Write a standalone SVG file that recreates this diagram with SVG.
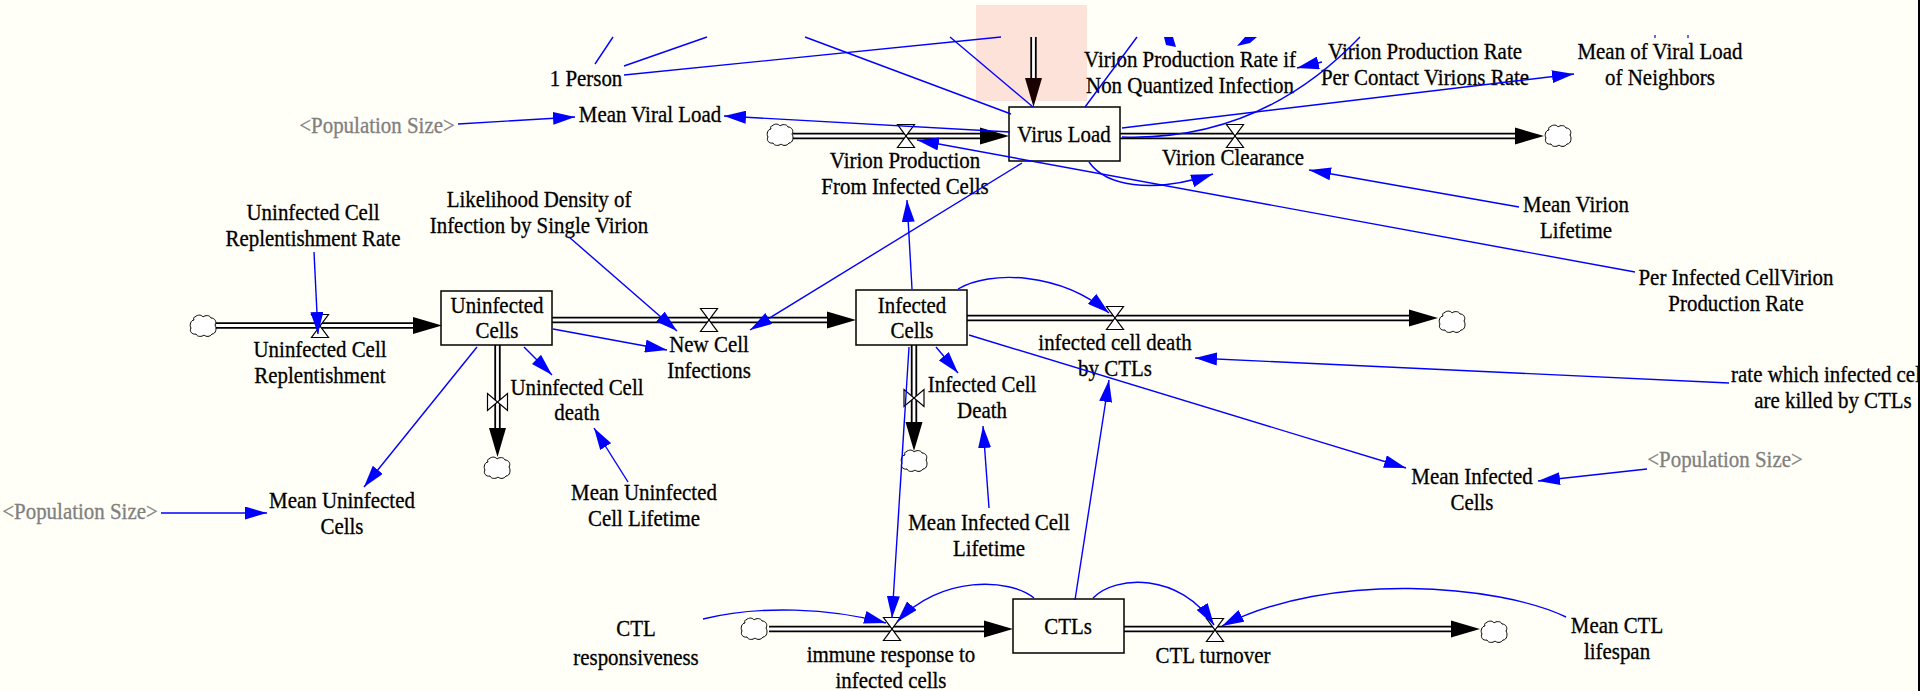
<svg xmlns="http://www.w3.org/2000/svg" width="1920" height="691" viewBox="0 0 1920 691">
  <style>
    .t { font-family: "Liberation Serif", "Times New Roman", serif; font-size: 22.5px; fill: #000; stroke: #000; stroke-width: 0.3; text-anchor: middle; }
    .g { fill: #808080; stroke: #808080; }
    .box { fill: none; stroke: #000; stroke-width: 1.5; }
    .po { fill: none; stroke: #000; stroke-width: 6.4; }
    .pi { fill: none; stroke: #fff; stroke-width: 2.8; }
    .valve { fill: #fff; stroke: #000; stroke-width: 1.2; }
    .cloud { fill: #fff; stroke: #000; stroke-width: 1; }
    .ah { fill: #000; }
    .ln { fill: none; stroke: #0000ff; stroke-width: 1.4; }
    .arr { marker-end: url(#blueHead); }
  </style>
  <defs>
    <marker id="blueHead" viewBox="0 0 22 13" refX="22" refY="6.5" markerWidth="22" markerHeight="13" markerUnits="userSpaceOnUse" orient="auto">
      <path d="M0,0 L22,6.5 L0,13 Z" fill="#0000ff"/>
    </marker>
    <path id="cloudShape" d="M-8,-9 C-5,-12 -1,-11 0,-9 C2,-11 7,-11 8,-8 C12,-8 14,-4 12,-1 C14,2 13,8 9,8 C7,11 3,11 1,9 C-1,11 -6,11 -7,8 C-11,9 -14,5 -12,2 C-14,-1 -12,-6 -9,-6 C-10,-8 -9,-9 -8,-9 Z"/>
    <path id="valveH" d="M-8.5,-11.5 H8.5 L-8.5,11.5 H8.5 Z"/>
    <path id="valveV" d="M-10,-8.5 V8.5 L10,-8.5 V8.5 Z"/>
    <path id="pipeHead" d="M0,0 L-29,-8.5 L-29,8.5 Z"/>
    <!-- flow pipes -->
    <path id="p1" d="M793,136 H981"/>
    <path id="p2" d="M1033.5,37 V79"/>
    <path id="p3" d="M1120,136 H1517"/>
    <path id="p4" d="M216,325.5 H414"/>
    <path id="p5" d="M552,320 H829"/>
    <path id="p6" d="M967,318 H1410"/>
    <path id="p7" d="M497.5,345 V428"/>
    <path id="p8" d="M914,345 V422"/>
    <path id="p9" d="M769,629 H986"/>
    <path id="p10" d="M1124,629 H1451"/>
    <clipPath id="frame"><rect x="0" y="0" width="1918" height="691"/></clipPath>
  </defs>

  <rect x="0" y="0" width="1920" height="691" fill="#fffef7"/>
  <rect x="976" y="5" width="111" height="96" fill="#fde2da"/>
  <rect x="1918" y="0" width="2" height="691" fill="#000"/>

  <!-- stock and flow pipes -->
  <g id="flows">
    <use href="#p1" class="po"/><use href="#p1" class="pi"/>
    <use href="#p2" class="po"/><use href="#p2" class="pi"/>
    <use href="#p3" class="po"/><use href="#p3" class="pi"/>
    <use href="#p4" class="po"/><use href="#p4" class="pi"/>
    <use href="#p5" class="po"/><use href="#p5" class="pi"/>
    <use href="#p6" class="po"/><use href="#p6" class="pi"/>
    <use href="#p7" class="po"/><use href="#p7" class="pi"/>
    <use href="#p8" class="po"/><use href="#p8" class="pi"/>
    <use href="#p9" class="po"/><use href="#p9" class="pi"/>
    <use href="#p10" class="po"/><use href="#p10" class="pi"/>

    <use href="#pipeHead" class="ah" transform="translate(1009,136)"/>
    <use href="#pipeHead" class="ah" transform="translate(1033.5,107) rotate(90)" style="fill:#1a0000"/>
    <use href="#pipeHead" class="ah" transform="translate(1544,136)"/>
    <use href="#pipeHead" class="ah" transform="translate(442,325.5)"/>
    <use href="#pipeHead" class="ah" transform="translate(856,320)"/>
    <use href="#pipeHead" class="ah" transform="translate(1438,318)"/>
    <use href="#pipeHead" class="ah" transform="translate(497.5,457) rotate(90)"/>
    <use href="#pipeHead" class="ah" transform="translate(914,451) rotate(90)"/>
    <use href="#pipeHead" class="ah" transform="translate(1013,629)"/>
    <use href="#pipeHead" class="ah" transform="translate(1480,629)"/>

    <use href="#cloudShape" class="cloud" x="780" y="135"/>
    <use href="#cloudShape" class="cloud" x="1558" y="136"/>
    <use href="#cloudShape" class="cloud" x="203" y="326"/>
    <use href="#cloudShape" class="cloud" x="1452" y="322"/>
    <use href="#cloudShape" class="cloud" x="497" y="468"/>
    <use href="#cloudShape" class="cloud" x="914" y="461"/>
    <use href="#cloudShape" class="cloud" x="754" y="629"/>
    <use href="#cloudShape" class="cloud" x="1494" y="632"/>
  </g>

  <!-- stocks -->
  <g id="virus-load"><rect class="box" x="1009" y="107" width="111" height="54"/>
    <g transform="translate(1064,142) scale(0.93,1)"><text class="t">Virus Load</text></g></g>
  <g id="uninfected-cells"><rect class="box" x="441" y="291" width="111" height="54"/>
    <g transform="translate(497,313) scale(0.93,1)"><text class="t">Uninfected</text><text class="t" y="25">Cells</text></g></g>
  <g id="infected-cells"><rect class="box" x="856" y="290" width="111" height="55"/>
    <g transform="translate(912,313) scale(0.93,1)"><text class="t">Infected</text><text class="t" y="25">Cells</text></g></g>
  <g id="ctls"><rect class="box" x="1013" y="599" width="111" height="54"/>
    <g transform="translate(1068,634) scale(0.93,1)"><text class="t">CTLs</text></g></g>

  <!-- flow rates (valves and names) -->
  <g id="virion-production"><use href="#valveH" class="valve" x="906" y="136"/>
    <g transform="translate(905,168) scale(0.93,1)"><text class="t">Virion Production</text><text class="t" y="26">From Infected Cells</text></g></g>
  <g id="virion-clearance"><use href="#valveH" class="valve" x="1235" y="136"/>
    <g transform="translate(1233,165) scale(0.93,1)"><text class="t">Virion Clearance</text></g></g>
  <g id="uninfected-cell-replentishment"><use href="#valveH" class="valve" x="320" y="326"/>
    <g transform="translate(320,357) scale(0.93,1)"><text class="t">Uninfected Cell</text><text class="t" y="26">Replentishment</text></g></g>
  <g id="new-cell-infections"><use href="#valveH" class="valve" x="709" y="320"/>
    <g transform="translate(709,352) scale(0.93,1)"><text class="t">New Cell</text><text class="t" y="26">Infections</text></g></g>
  <g id="infected-cell-death-by-ctls"><use href="#valveH" class="valve" x="1115" y="318"/>
    <g transform="translate(1115,350) scale(0.93,1)"><text class="t">infected cell death</text><text class="t" y="26">by CTLs</text></g></g>
  <g id="uninfected-cell-death"><use href="#valveV" class="valve" x="497.5" y="402"/>
    <g transform="translate(577,395) scale(0.93,1)"><text class="t">Uninfected Cell</text><text class="t" y="25">death</text></g></g>
  <g id="infected-cell-death"><use href="#valveV" class="valve" x="914" y="398"/>
    <g transform="translate(982,392) scale(0.93,1)"><text class="t">Infected Cell</text><text class="t" y="26">Death</text></g></g>
  <g id="immune-response"><use href="#valveH" class="valve" x="892" y="629"/>
    <g transform="translate(891,662) scale(0.93,1)"><text class="t">immune response to</text><text class="t" y="26">infected cells</text></g></g>
  <g id="ctl-turnover"><use href="#valveH" class="valve" x="1215" y="630"/>
    <g transform="translate(1213,663) scale(0.93,1)"><text class="t">CTL turnover</text></g></g>

  <!-- auxiliaries -->
  <g id="one-person" transform="translate(586,86) scale(0.93,1)"><text class="t">1 Person</text></g>
  <g id="mean-viral-load" transform="translate(650,122) scale(0.93,1)"><text class="t">Mean Viral Load</text></g>
  <g id="pop-size-1" transform="translate(377,133) scale(0.93,1)"><text class="t g">&lt;Population Size&gt;</text></g>
  <g id="vpr-non-quantized" transform="translate(1190,67) scale(0.93,1)"><text class="t">Virion Production Rate if</text><text class="t" y="26">Non Quantized Infection</text></g>
  <g id="vpr-per-contact" transform="translate(1425,59) scale(0.93,1)"><text class="t">Virion Production Rate</text><text class="t" y="26">Per Contact Virions Rate</text></g>
  <g id="mean-viral-load-neighbors" transform="translate(1660,59) scale(0.93,1)"><text class="t">Mean of Viral Load</text><text class="t" y="26">of Neighbors</text></g>
  <g id="mean-virion-lifetime" transform="translate(1576,212) scale(0.93,1)"><text class="t">Mean Virion</text><text class="t" y="26">Lifetime</text></g>
  <g id="per-cell-production-rate" transform="translate(1736,285) scale(0.93,1)"><text class="t">Per Infected CellVirion</text><text class="t" y="26">Production Rate</text></g>
  <g id="replentishment-rate" transform="translate(313,220) scale(0.93,1)"><text class="t">Uninfected Cell</text><text class="t" y="26">Replentishment Rate</text></g>
  <g id="likelihood-density" transform="translate(539,207) scale(0.93,1)"><text class="t">Likelihood Density of</text><text class="t" y="26">Infection by Single Virion</text></g>
  <g id="kill-rate" clip-path="url(#frame)"><g transform="translate(1833,382) scale(0.93,1)"><text class="t">rate which infected cells</text><text class="t" y="26">are killed by CTLs</text></g></g>
  <g id="mean-infected-cells" transform="translate(1472,484) scale(0.93,1)"><text class="t">Mean Infected</text><text class="t" y="26">Cells</text></g>
  <g id="pop-size-2" transform="translate(1725,467) scale(0.93,1)"><text class="t g">&lt;Population Size&gt;</text></g>
  <g id="mean-infected-cell-lifetime" transform="translate(989,530) scale(0.93,1)"><text class="t">Mean Infected Cell</text><text class="t" y="26">Lifetime</text></g>
  <g id="mean-uninfected-cell-lifetime" transform="translate(644,500) scale(0.93,1)"><text class="t">Mean Uninfected</text><text class="t" y="26">Cell Lifetime</text></g>
  <g id="mean-uninfected-cells" transform="translate(342,508) scale(0.93,1)"><text class="t">Mean Uninfected</text><text class="t" y="26">Cells</text></g>
  <g id="pop-size-3" transform="translate(80,519) scale(0.93,1)"><text class="t g">&lt;Population Size&gt;</text></g>
  <g id="ctl-responsiveness" transform="translate(636,636) scale(0.93,1)"><text class="t">CTL</text><text class="t" y="29">responsiveness</text></g>
  <g id="mean-ctl-lifespan" transform="translate(1617,633) scale(0.93,1)"><text class="t">Mean CTL</text><text class="t" y="26">lifespan</text></g>

  <!-- causal links -->
  <g id="links">
    <path class="ln" d="M613,37 L595,64"/>
    <path class="ln" d="M624,66 L707,37"/>
    <path class="ln" d="M624,75 L1001,37"/>
    <path class="ln" d="M805,37 L1011,114"/>
    <path class="ln" d="M950,37 L1033,107"/>
    <path class="ln" d="M1137,37 L1085,107"/>
    <path d="M1164,37 L1173,37 L1176,47 L1166,45 Z" fill="#0000ff"/>
    <path d="M1245,37 L1257,37 L1250,43 L1237,46 Z" fill="#0000ff"/>
    <path d="M1655,35 v3 M1688,35 v3" stroke="#0000ff" stroke-width="1.2"/>
    <path class="ln arr" d="M1322,62 L1297,68"/>
    <path class="ln" d="M1122,137 C1210,140 1290,110 1360,37"/>
    <path class="ln arr" d="M1122,128 L1574,74"/>
    <path class="ln arr" d="M1010,132 L724,116"/>
    <path class="ln arr" d="M458,124 L575,117"/>
    <path class="ln arr" d="M1089,162 C1105,185 1150,195 1213,174"/>
    <path class="ln arr" d="M1635,272 L917,140"/>
    <path class="ln arr" d="M1519,207 L1309,170"/>
    <path class="ln arr" d="M314,252 L318,334"/>
    <path class="ln arr" d="M569,237 L677,331"/>
    <path class="ln arr" d="M553,329 L667,350"/>
    <path class="ln arr" d="M1022,163 L750,330"/>
    <path class="ln arr" d="M912,289 L907,200"/>
    <path class="ln arr" d="M958,289 C990,270 1060,272 1109,313"/>
    <path class="ln arr" d="M1729,383 L1195,358"/>
    <path class="ln arr" d="M969,335 L1406,468"/>
    <path class="ln arr" d="M1647,469 L1538,481"/>
    <path class="ln arr" d="M936,347 L958,373"/>
    <path class="ln arr" d="M989,508 L983,426"/>
    <path class="ln arr" d="M909,347 L892,618"/>
    <path class="ln arr" d="M524,347 L552,375"/>
    <path class="ln arr" d="M628,482 L594,428"/>
    <path class="ln arr" d="M477,347 L364,487"/>
    <path class="ln arr" d="M161,513 L267,513"/>
    <path class="ln arr" d="M703,619 C760,605 830,608 886,623"/>
    <path class="ln arr" d="M1034,598 C1010,578 940,575 897,622"/>
    <path class="ln arr" d="M1093,598 C1115,575 1180,572 1214,625"/>
    <path class="ln arr" d="M1566,617 C1500,585 1330,570 1222,626"/>
    <path class="ln arr" d="M1075,600 L1109,380"/>
  </g>
</svg>
